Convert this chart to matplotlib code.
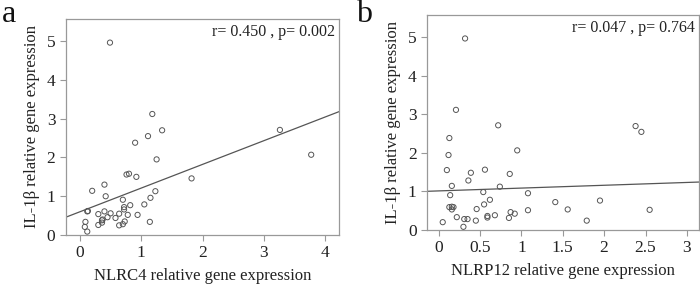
import matplotlib.pyplot as plt
import numpy as np

plt.rcParams['font.family'] = ['Liberation Serif', 'DejaVu Serif']

# panel a: NLRC4 vs IL-1b
nlrc4_x = [0.49, 1.18, 1.34, 1.11, 0.90, 1.25, 3.26, 3.77, 1.82, 0.76, 0.80, 0.92,
           0.40, 0.20, 0.42, 1.23, 1.15, 0.70, 0.82, 1.05, 0.72, 0.72, 0.12, 0.13,
           0.40, 0.50, 0.30, 0.64, 0.78, 0.94, 0.45, 0.58, 0.37, 0.36, 0.36, 0.73,
           1.14, 0.09, 0.30, 0.64, 0.70, 0.08, 0.12]
nlrc4_y = [4.96, 3.12, 2.70, 2.55, 2.38, 1.95, 2.71, 2.07, 1.46, 1.56, 1.58, 1.50,
           1.30, 1.14, 1.00, 1.13, 0.96, 0.91, 0.77, 0.79, 0.72, 0.66, 0.61, 0.62,
           0.61, 0.56, 0.54, 0.55, 0.52, 0.52, 0.46, 0.44, 0.40, 0.38, 0.32, 0.35,
           0.34, 0.34, 0.26, 0.25, 0.28, 0.21, 0.09]
fit_a = (0.611, 0.60)  # slope, intercept

# panel b: NLRP12 vs IL-1b
nlrp12_x = [0.32, 0.21, 0.13, 0.12, 0.10, 0.72, 0.95, 2.38, 2.45, 0.39, 0.56, 0.36,
            0.86, 0.16, 0.74, 0.14, 0.54, 1.08, 0.13, 0.16, 0.18, 0.16, 0.62, 0.55,
            0.46, 1.08, 1.41, 1.56, 1.95, 2.55, 0.87, 0.92, 0.22, 0.31, 0.35, 0.45,
            0.59, 0.59, 0.68, 0.85, 1.79, 0.05, 0.30]
nlrp12_y = [4.96, 3.11, 2.38, 1.94, 1.55, 2.71, 2.06, 2.69, 2.54, 1.48, 1.56, 1.28,
            1.45, 1.14, 1.12, 0.90, 0.98, 0.95, 0.59, 0.60, 0.59, 0.53, 0.78, 0.66,
            0.54, 0.51, 0.72, 0.53, 0.76, 0.52, 0.46, 0.42, 0.33, 0.28, 0.28, 0.24,
            0.36, 0.32, 0.38, 0.31, 0.24, 0.20, 0.08]
fit_b = (0.073, 1.01)

fig = plt.figure(figsize=(7, 2.87), dpi=100, facecolor='w')


def panel(rect, x, y, fit, xlim, xticks, xticklabels, xlabel, note, letter, letter_pos):
    ax = fig.add_axes(rect)
    ax.scatter(x, y, s=14, facecolors='none', edgecolors='#555555', linewidths=0.7, zorder=3)
    xs = np.array(xlim)
    ax.plot(xs, fit[0] * xs + fit[1], color='#555555', lw=0.9)
    ax.set_xlim(xlim)
    ax.set_ylim(0, 5.57)
    ax.set_xticks(xticks)
    ax.set_xticklabels(xticklabels)
    ax.set_yticks([0, 1, 2, 3, 4, 5])
    for s in ax.spines.values():
        s.set_color('#999999')
        s.set_linewidth(0.9)
    ax.tick_params(colors='#999999', labelcolor='#222222', labelsize=12.5, length=4)
    ax.set_xlabel(xlabel, fontsize=12, color='#222222', labelpad=5)
    ax.set_ylabel('IL-1β relative gene expression', fontsize=12, color='#222222', labelpad=5)
    ax.text(0.985, 0.975, note, transform=ax.transAxes, ha='right', va='top',
            fontsize=11.5, color='#222222')
    fig.text(letter_pos[0], letter_pos[1], letter, fontsize=23, color='#111111',
             ha='left', va='top')
    return ax


panel([0.094, 0.181, 0.39, 0.753], nlrc4_x, nlrc4_y, fit_a, (-0.23, 4.22),
      [0, 1, 2, 3, 4], ['0', '1', '2', '3', '4'],
      'NLRC4 relative gene expression', 'r= 0.450 , p= 0.002', 'a', (0.002, 1.0))
panel([0.61, 0.199, 0.389, 0.749], nlrp12_x, nlrp12_y, fit_b, (-0.14, 3.15),
      [0, 0.5, 1, 1.5, 2, 2.5, 3], ['0', '0.5', '1', '1.5', '2', '2.5', '3'],
      'NLRP12 relative gene expression', 'r= 0.047 , p= 0.764', 'b', (0.508, 1.0))

fig.savefig('out.png', dpi=100)
